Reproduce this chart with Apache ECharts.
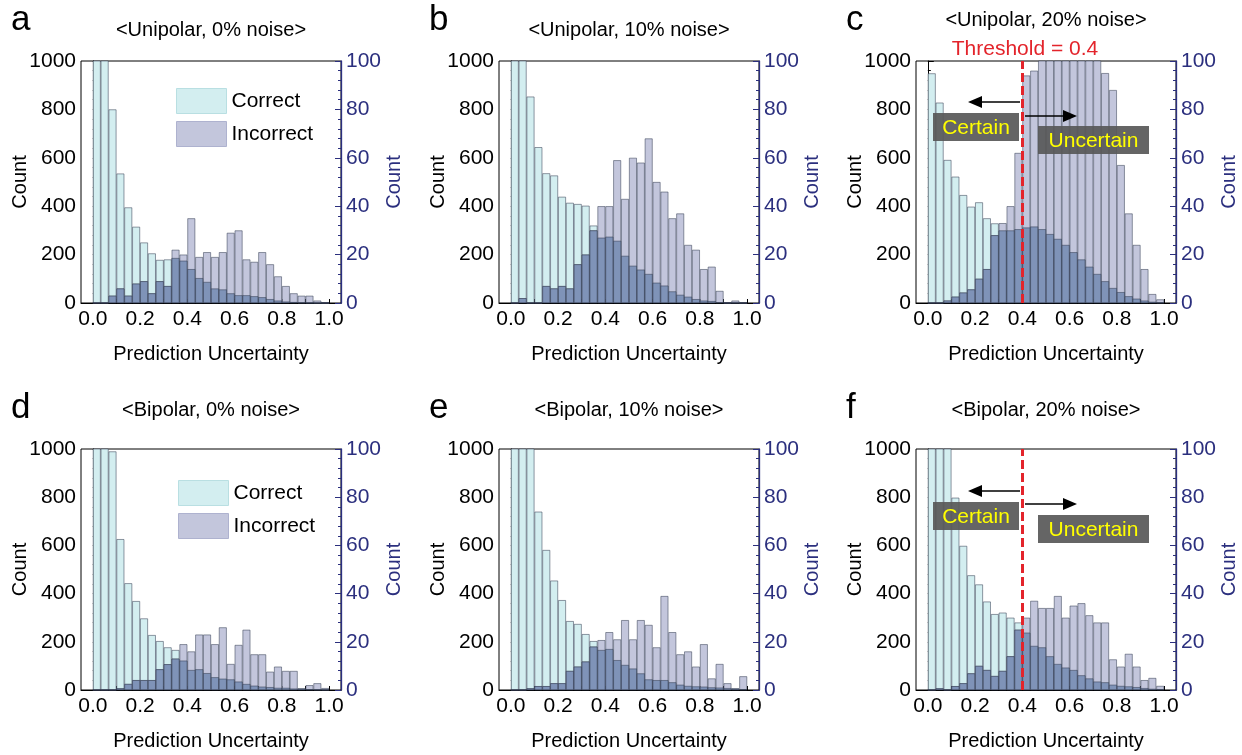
<!DOCTYPE html>
<html><head><meta charset="utf-8">
<script src="https://cdn.jsdelivr.net/npm/echarts@6/dist/echarts.min.js"></script>
<style>html,body{margin:0;padding:0;background:#fff}#chart{width:1242px;height:755px}</style>
</head><body><div id="chart"></div>
<script>
// ---------- data ----------
const binCenters = [0.0167,0.05,0.0833,0.1167,0.15,0.1833,0.2167,0.25,0.2833,0.3167,0.35,0.3833,0.4167,0.45,0.4833,0.5167,0.55,0.5833,0.6167,0.65,0.6833,0.7167,0.75,0.7833,0.8167,0.85,0.8833,0.9167,0.95,0.9833];
const xTickLabels = [0, 0.2, 0.4, 0.6, 0.8, 1.0];
const xTicks = [0,0.1,0.2,0.3,0.4,0.5,0.6,0.7,0.8,0.9,1.0];
const panelLetters = ['a','b','c','d','e','f'];
const panelTitles = ['<Unipolar, 0% noise>','<Unipolar, 10% noise>','<Unipolar, 20% noise>','<Bipolar, 0% noise>','<Bipolar, 10% noise>','<Bipolar, 20% noise>'];
const legendNames = ['Correct','Incorrect'];
const threshold = 0.4;

const correctA = [1300,1300,800,535,395,315,250,205,178,180,186,175,140,103,87,60,56,40,32,32,28,24,16,10,6,4,2,1,0,0];
const incorrectA = [0,0,3,6,3,8,9,4,9,7,22,20,35,19,21,19,21,29,30,18,17,21,16,11,7,4,3,3,1,0];
const correctB = [1300,1300,853,644,536,527,439,414,409,402,320,270,274,257,195,154,138,120,84,72,48,34,26,16,10,8,3,1,1,0];
const incorrectB = [0,2,0,0,7,6,7,6,16,20,30,40,40,59,43,60,58,68,50,46,35,37,24,22,14,15,5,0,1,0];
const correctC = [949,828,591,522,446,398,416,350,329,300,300,305,312,316,305,285,265,240,210,180,150,120,90,62,45,28,18,10,5,2];
const incorrectC = [0,0,1,2.6,4.3,5.6,10,14,28,33,40,62,94,96,115,115,115,115,115,115,115,115,95,88,57,37,24,14,3.7,1.5];
const correctD = [1300,1300,990,626,443,369,297,228,203,177,166,122,83,86,70,53,47,44,35,25,18,14,12,9,9,6,5,3,2,1];
const incorrectD = [0,0,0,0.7,2.5,4.1,4.1,4.1,8.6,10.7,13,19,16,23,23,19,26,10.8,18.7,25,14.8,14.8,7.6,9.7,7.9,7.9,0.7,2,2.8,0.8];
const correctE = [1300,1300,1300,740,581,454,373,286,274,232,203,166,170,124,104,89,69,44,41,41,32,22,17,15,14,11,10,8,5,3];
const incorrectE = [0,0,0.7,1.6,1.6,2.8,2.8,7.9,9.7,11.8,18,20.7,24,21,29,21,29,27,17.7,39,24,14.8,16,9.7,19,4.8,10.8,2.8,0.7,5.7];
const correctF = [1300,1300,1300,798,598,476,438,367,315,321,300,280,238,183,177,140,108,93,83,61,48,35,32,22,17,15,12,8,5,3];
const incorrectF = [0,0.7,0,1.6,2.8,6.9,10,8.3,5.8,7.9,14,25,30,37,34,34,39,30,35,36,31,28,28,12.7,9.7,15,9.7,4.1,5,1.7];

const correctSets = [correctA, correctB, correctC, correctD, correctE, correctF];
const incorrectSets = [incorrectA, incorrectB, incorrectC, incorrectD, incorrectE, incorrectF];

// ---------- layout / style ----------
const FONT = 'Arial, "Liberation Sans", Helvetica, sans-serif';
const NAVY = '#2b2f7e';
const CYAN = '#d3eef0';
const LAV = '#c3c6dc';
const DARK = '#7f93b8';
const EDGE = 'rgba(50,60,80,0.75)';
const colLeft = [81, 499, 916];
const rowTop = [61, 449];
const gridW = 260, gridH = [242, 241];
const xMin = -0.05, xMax = 1.05;
const barW = gridW / (xMax - xMin) / binCenters.length;
const titleY = [30, 30, 20, 410, 410, 410];

const grids = [], xAxes = [], yAxes = [], series = [], graphics = [];
for (let k = 0; k < 6; k++) {
  const r = Math.floor(k / 3), c = k % 3;
  const L = colLeft[c], T = rowTop[r], H = gridH[r];
  grids.push({left: L, top: T, width: gridW, height: H, show: true, borderColor: '#000', borderWidth: 1, outerBoundsMode: 'none', containLabel: false});
  xAxes.push({
    type: 'value', gridIndex: k, min: xMin, max: xMax,
    axisLine: {show: true, lineStyle: {color: '#000', width: 1}},
    axisTick: {show: true, inside: true, length: 4, customValues: xTicks, lineStyle: {color: '#000'}},
    axisLabel: {show: true, customValues: xTickLabels, formatter: v => v.toFixed(1), fontSize: 21, color: '#000', margin: 6, fontFamily: FONT},
    splitLine: {show: false},
    name: 'Prediction Uncertainty', nameLocation: 'middle', nameGap: 41,
    nameTextStyle: {fontSize: 20, color: '#000', fontFamily: FONT}
  });
  yAxes.push({
    type: 'value', gridIndex: k, position: 'left', min: 0, max: 1000, interval: 200,
    axisLine: {show: true, lineStyle: {color: '#000'}},
    axisTick: {show: true, inside: true, length: 6, lineStyle: {color: '#000'}},
    minorTick: {show: true, splitNumber: 5, length: 3, lineStyle: {color: '#000'}},
    axisLabel: {fontSize: 21, color: '#000', margin: 5, fontFamily: FONT, formatter: v => String(v)},
    splitLine: {show: false}, minorSplitLine: {show: false},
    name: 'Count', nameLocation: 'middle', nameGap: 51, nameRotate: 90, nameMoveOverlap: false,
    nameTextStyle: {fontSize: 20, color: '#000', fontFamily: FONT}
  });
  yAxes.push({
    type: 'value', gridIndex: k, position: 'right', min: 0, max: 100, interval: 20,
    axisLine: {show: true, lineStyle: {color: NAVY, width: 1.3}},
    axisTick: {show: true, inside: true, length: 6, lineStyle: {color: NAVY}},
    minorTick: {show: true, splitNumber: 5, length: 3, lineStyle: {color: NAVY}},
    axisLabel: {fontSize: 21, color: NAVY, margin: 5, fontFamily: FONT, formatter: v => String(v)},
    splitLine: {show: false}, minorSplitLine: {show: false},
    name: 'Count', nameLocation: 'middle', nameGap: 42, nameRotate: 90,
    nameTextStyle: {fontSize: 20, color: NAVY, fontFamily: FONT}
  });
  const cor = correctSets[k], inc = incorrectSets[k];
  const common = {type: 'bar', xAxisIndex: k, barWidth: barW, barGap: '-100%', clip: true, silent: true, animation: false};
  series.push(Object.assign({}, common, {
    name: 'Correct', yAxisIndex: 2 * k,
    itemStyle: {color: CYAN, borderColor: EDGE, borderWidth: 0.7},
    data: binCenters.map((x, i) => [x, cor[i]]),
    z: 2
  }));
  series.push(Object.assign({}, common, {
    name: 'Incorrect', yAxisIndex: 2 * k + 1,
    itemStyle: {color: LAV, borderColor: EDGE, borderWidth: 0.7},
    data: binCenters.map((x, i) => [x, inc[i]]),
    z: 3
  }));
  const ov = Object.assign({}, common, {
    name: 'overlap', yAxisIndex: 2 * k + 1,
    itemStyle: {color: DARK, borderColor: EDGE, borderWidth: 0.7},
    data: binCenters.map((x, i) => [x, Math.min(cor[i] / 10, inc[i])]),
    z: 4
  });
  if (c === 2) {
    ov.markLine = {
      silent: true, symbol: 'none', animation: false,
      lineStyle: {color: '#e3242b', type: [9, 4], width: 3},
      label: {show: false},
      data: [{xAxis: threshold}]
    };
  }
  series.push(ov);

  // panel letter and title
  graphics.push({type: 'text', left: L - 70, top: T - 58, style: {text: panelLetters[k], font: '35px ' + FONT, fill: '#000'}});
  graphics.push({type: 'text', x: L + gridW / 2, y: titleY[k], style: {text: panelTitles[k], font: '20px ' + FONT, fill: '#000', textAlign: 'center', textVerticalAlign: 'middle'}});
}

// annotations for the 20% noise panels
function arrow(x1, x2, y) {
  const dir = x2 > x1 ? 1 : -1;
  return [
    {type: 'line', shape: {x1: x1, y1: y, x2: x2 - dir * 12, y2: y}, style: {stroke: '#000', lineWidth: 1.5}, z: 100},
    {type: 'polygon', shape: {points: [[x2, y], [x2 - dir * 14, y - 6], [x2 - dir * 14, y + 6]]}, style: {fill: '#000'}, z: 100}
  ];
}
function label(x, y, w, h, txt) {
  return [
    {type: 'rect', shape: {x: x, y: y, width: w, height: h}, style: {fill: 'rgba(88,88,88,0.92)'}, z: 100},
    {type: 'text', x: x + w / 2, y: y + h / 2 + 1, style: {text: txt, font: '21px ' + FONT, fill: '#ffff00', textAlign: 'center', textVerticalAlign: 'middle'}, z: 101}
  ];
}
[[102, 116, 113, 126], [491, 504, 502, 515]].forEach(a => {
  graphics.push(...arrow(1020, 968, a[0]));
  graphics.push(...arrow(1025, 1077, a[1]));
  graphics.push(...label(933, a[2], 86, 28, 'Certain'));
  graphics.push(...label(1038, a[3], 111, 28, 'Uncertain'));
});
graphics.push({type: 'text', x: 1025, y: 49, style: {text: 'Threshold = 0.4', font: '21px ' + FONT, fill: '#e3242b', textAlign: 'center', textVerticalAlign: 'middle'}, z: 100});

const legends = [[171, 83], [173, 475]].map(p => ({
  left: p[0], top: p[1], orient: 'vertical', selectedMode: false,
  itemWidth: 50, itemHeight: 25, itemGap: 7, icon: 'rect',
  textStyle: {fontSize: 21, color: '#000', fontFamily: FONT},
  data: [
    {name: legendNames[0], itemStyle: {color: CYAN, borderColor: '#b9dfe2', borderWidth: 1}},
    {name: legendNames[1], itemStyle: {color: LAV, borderColor: '#aeb2cf', borderWidth: 1}}
  ]
}));

const chart = echarts.init(document.getElementById('chart'), null, {renderer: 'canvas'});
chart.setOption({
  animation: false,
  backgroundColor: '#fff',
  textStyle: {fontFamily: FONT},
  grid: grids, xAxis: xAxes, yAxis: yAxes, series: series,
  legend: legends, graphic: graphics
});
</script></body></html>
